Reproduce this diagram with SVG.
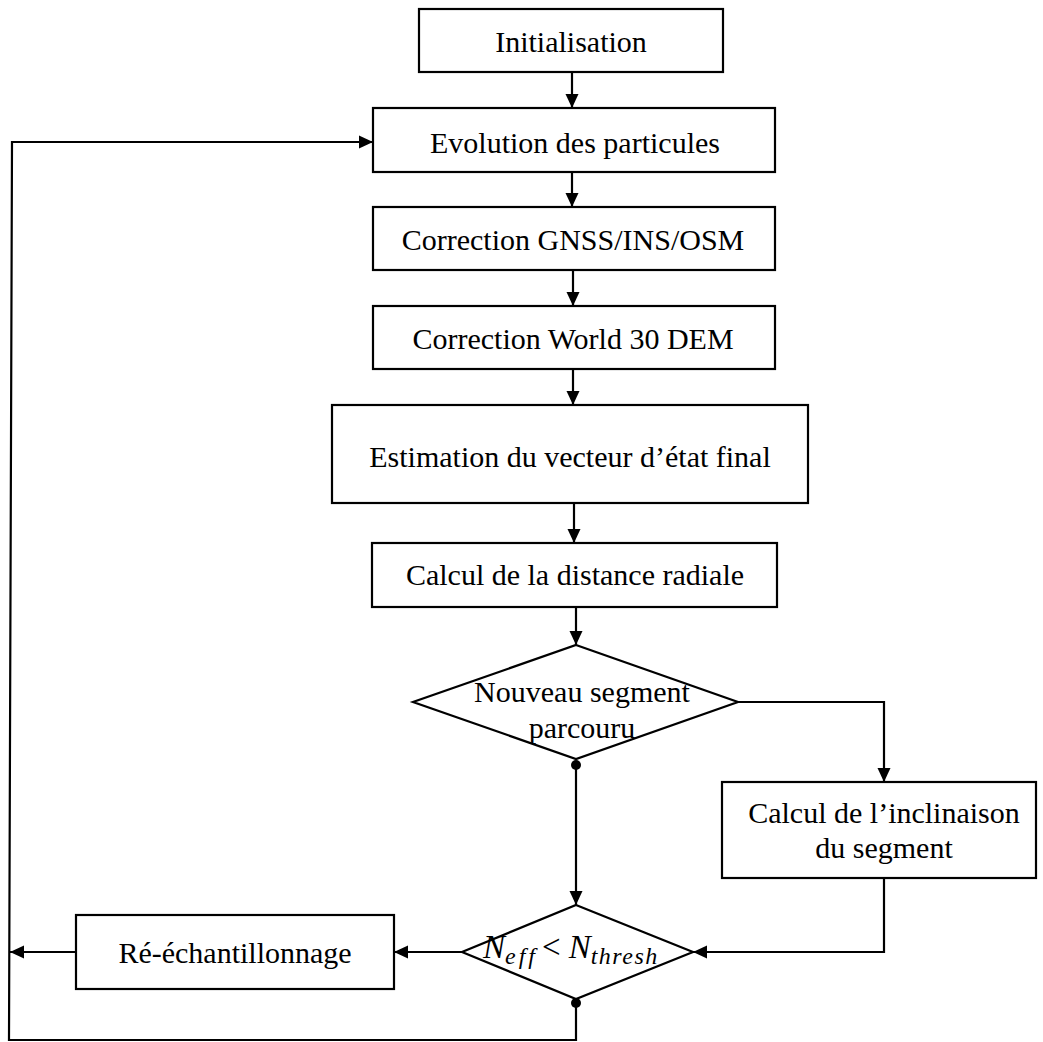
<svg xmlns="http://www.w3.org/2000/svg" width="1043" height="1042" viewBox="0 0 1043 1042">
<style>
.box{fill:#fff;stroke:#000;stroke-width:2.2}
.t{font-family:"Liberation Serif","Times New Roman",serif;font-size:30px;fill:#000;text-anchor:middle}
.m{font-family:"Liberation Serif","Times New Roman",serif;font-size:33px;fill:#000}
.c{fill:none;stroke:#000;stroke-width:2.2}
</style>
<defs>
<marker id="ah" markerUnits="userSpaceOnUse" markerWidth="16" markerHeight="16" refX="14" refY="8" orient="auto">
<path d="M0,1.5 L14,8 L0,14.5 Z" fill="#000"/>
</marker>
<marker id="dot" markerUnits="userSpaceOnUse" markerWidth="12" markerHeight="12" refX="6" refY="6" orient="auto">
<circle cx="6" cy="6" r="5" fill="#000"/>
</marker>
</defs>
<rect width="1043" height="1042" fill="#fff"/>
<g id="connectors">
<path class="c" d="M572,72 V108" marker-end="url(#ah)"/>
<path class="c" d="M572,172 V207" marker-end="url(#ah)"/>
<path class="c" d="M573,270 V306" marker-end="url(#ah)"/>
<path class="c" d="M573,369 V405" marker-end="url(#ah)"/>
<path class="c" d="M574,503 V543" marker-end="url(#ah)"/>
<path class="c" d="M576,607 V645" marker-end="url(#ah)"/>
<path class="c" d="M738,702 H884 V782" marker-end="url(#ah)"/>
<path class="c" d="M576,765 V905" marker-start="url(#dot)" marker-end="url(#ah)"/>
<path class="c" d="M884,878 V952 H693" marker-end="url(#ah)"/>
<path class="c" d="M462,952 H394" marker-end="url(#ah)"/>
<path class="c" d="M76,952 H10" marker-end="url(#ah)"/>
<path class="c" d="M576,1003 V1040 H9 L12,142 H373" marker-start="url(#dot)" marker-end="url(#ah)"/>
</g>
<g id="n-init"><rect class="box" x="419" y="9" width="304" height="63"/><text class="t" x="571" y="52">Initialisation</text></g>
<g id="n-evol"><rect class="box" x="373" y="108" width="402" height="64"/><text class="t" x="575" y="153">Evolution des particules</text></g>
<g id="n-gnss"><rect class="box" x="373" y="207" width="402" height="63"/><text class="t" x="573" y="250">Correction GNSS/INS/OSM</text></g>
<g id="n-dem"><rect class="box" x="373" y="306" width="402" height="63"/><text class="t" x="573" y="349">Correction World 30 DEM</text></g>
<g id="n-est"><rect class="box" x="332" y="405" width="476" height="98"/><text class="t" x="570" y="467">Estimation du vecteur d’état final</text></g>
<g id="n-dist"><rect class="box" x="372" y="543" width="405" height="64"/><text class="t" x="575" y="585">Calcul de la distance radiale</text></g>
<g id="n-seg"><polygon class="box" points="576,645 738,702 576,759 413,702"/><text class="t" x="582" y="702">Nouveau segment</text><text class="t" x="582" y="738">parcouru</text></g>
<g id="n-incl"><rect class="box" x="722" y="782" width="314" height="96"/><text class="t" x="884" y="823">Calcul de l’inclinaison</text><text class="t" x="884" y="858">du segment</text></g>
<g id="n-neff"><polygon class="box" points="576,905 693,952 576,999 462,952"/><text class="m" x="483" y="958"><tspan font-style="italic">N</tspan><tspan font-style="italic" font-size="24" dy="6" letter-spacing="3">eff</tspan><tspan dy="-6" dx="4">&lt;</tspan><tspan dx="8" font-style="italic">N</tspan><tspan font-style="italic" font-size="24" dy="6" letter-spacing="1.5">thresh</tspan></text></g>
<g id="n-resamp"><rect class="box" x="76" y="915" width="318" height="74"/><text class="t" x="235" y="963">Ré-échantillonnage</text></g>
</svg>
